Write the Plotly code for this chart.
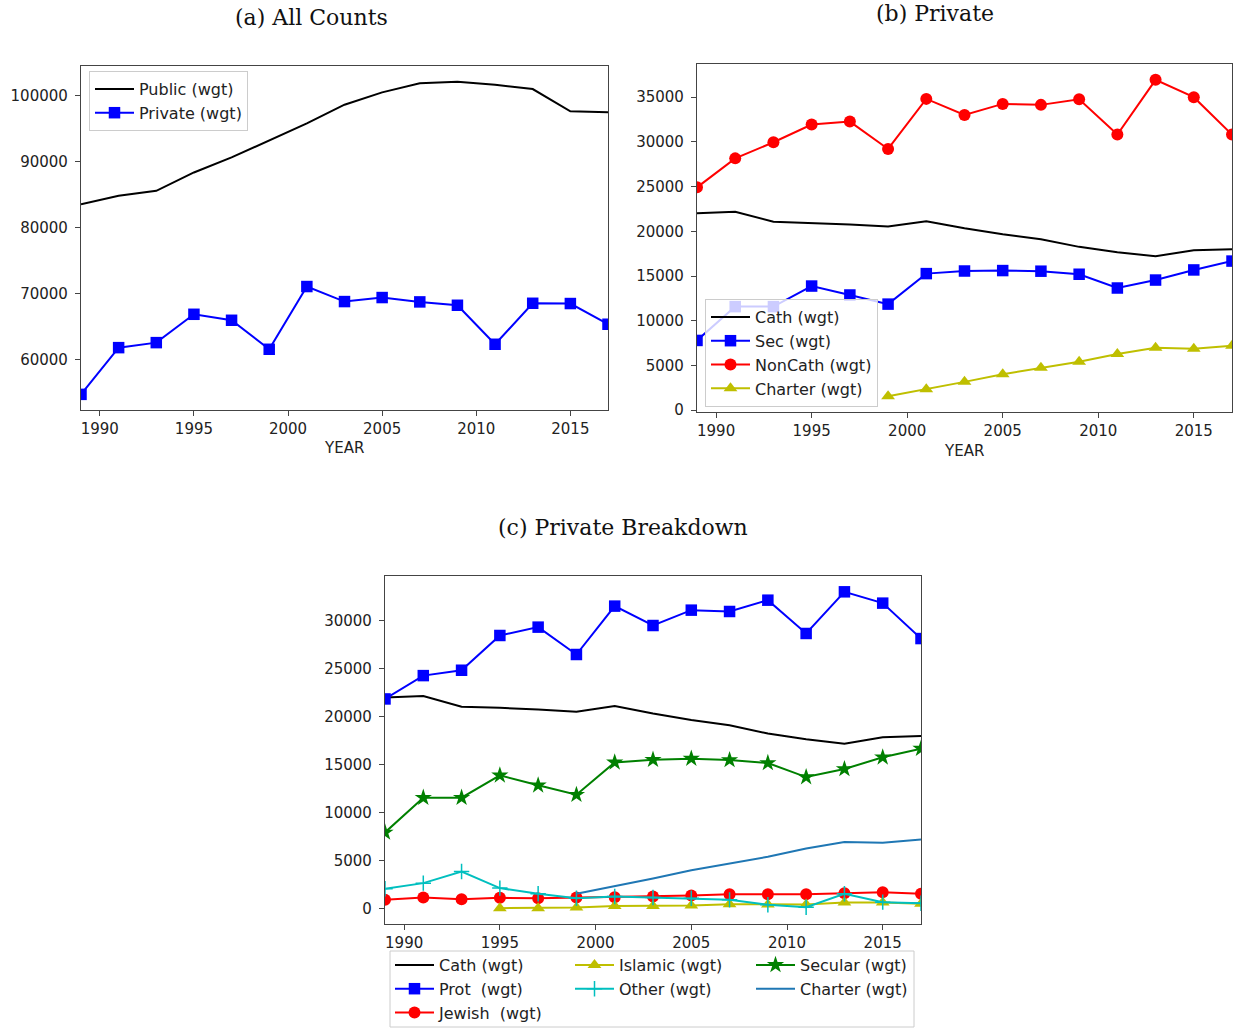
import plotly.graph_objects as go

W, H = 1236, 1028

# ---------------- data ----------------
years = [1989, 1991, 1993, 1995, 1997, 1999, 2001, 2003, 2005, 2007, 2009, 2011, 2013, 2015, 2017]

# (a) All Counts
public_wgt = [83540, 84800, 85570, 88350, 90630, 93160, 95800, 98630, 100500, 101870, 102130, 101670, 101010, 97620, 97470]
private_wgt = [54680, 61770, 62530, 66830, 65920, 61520, 71040, 68760, 69370, 68710, 68200, 62280, 68500, 68460, 65320]

# (b) Private
cath_wgt = [22030, 22180, 21060, 20950, 20760, 20540, 21130, 20350, 19680, 19120, 18260, 17660, 17210, 17890, 18000]
sec_wgt = [7800, 11580, 11580, 13880, 12880, 11860, 15270, 15560, 15610, 15540, 15200, 13660, 14550, 15680, 16670]
noncath_wgt = [24910, 28150, 29950, 31930, 32260, 29200, 34800, 33010, 34240, 34130, 34760, 30810, 36930, 34990, 30810]
charter_wgt = [None, None, None, None, None, 1570, 2350, 3170, 4030, 4750, 5420, 6280, 6970, 6880, 7220]

# (c) Private Breakdown
prot_wgt = [21870, 24300, 24860, 28480, 29350, 26500, 31540, 29520, 31120, 30980, 32160, 28690, 33030, 31850, 28160]
jewish_wgt = [940, 1180, 1010, 1150, 1110, 1180, 1220, 1290, 1390, 1530, 1530, 1530, 1630, 1740, 1570]
islamic_wgt = [None, None, None, 70, 70, 140, 310, 310, 350, 490, 450, 450, 660, 660, 520]
other_wgt = [2090, 2680, 3890, 2160, 1570, 1110, 1290, 1180, 1110, 940, 420, 170, 1570, 700, 590]
secular_wgt = [7960, 11580, 11580, 13910, 12870, 11890, 15260, 15540, 15650, 15510, 15200, 13730, 14570, 15790, 16690]

xtick_vals = [1990, 1995, 2000, 2005, 2010, 2015]

titles = ["(a) All Counts", "(b) Private", "(c) Private Breakdown"]

# ---------------- helpers ----------------
def px(x):
    return x / W


def py(y):
    return 1 - y / H


def auto_range(*series):
    vals = [v for s in series for v in s if v is not None]
    lo, hi = min(vals), max(vals)
    m = 0.05 * (hi - lo)
    return [lo - m, hi + m]


BLACK = "#000000"
BLUE = "#0000ff"
RED = "#ff0000"
YEL = "#bfbf00"
CYAN = "#00bfbf"
GREEN = "#008000"
C0 = "#1f77b4"

fig = go.Figure()


def add(x, y, name, color, xa, ya, legend, symbol=None, msize=10, rank=None, mline=None):
    kw = {}
    if symbol is None:
        mode = "lines"
    else:
        mode = "lines+markers"
        marker = dict(symbol=symbol, size=msize, color=color)
        if mline:
            marker["line"] = dict(color=color, width=mline)
        kw["marker"] = marker
    if rank is not None:
        kw["legendrank"] = rank
    fig.add_trace(go.Scatter(
        x=x, y=y, name=name, mode=mode,
        line=dict(color=color, width=2),
        xaxis=xa, yaxis=ya, legend=legend, cliponaxis=True, **kw))


SQ, CI, TR, ST, PL = 11.5, 12, 12, 13, 11

# (a)
add(years, public_wgt, "Public (wgt)", BLACK, "x", "y", "legend")
add(years, private_wgt, "Private (wgt)", BLUE, "x", "y", "legend", symbol="square", msize=SQ)

# (b)
add(years, cath_wgt, "Cath (wgt)", BLACK, "x2", "y2", "legend2")
add(years, sec_wgt, "Sec (wgt)", BLUE, "x2", "y2", "legend2", symbol="square", msize=SQ)
add(years, noncath_wgt, "NonCath (wgt)", RED, "x2", "y2", "legend2", symbol="circle", msize=CI)
add(years, charter_wgt, "Charter (wgt)", YEL, "x2", "y2", "legend2", symbol="triangle-up", msize=TR)

# (c)
add(years, cath_wgt, "Cath (wgt)", BLACK, "x3", "y3", "legend3", rank=1)
add(years, prot_wgt, "Prot  (wgt)", BLUE, "x3", "y3", "legend3", symbol="square", msize=SQ, rank=2)
add(years, jewish_wgt, "Jewish  (wgt)", RED, "x3", "y3", "legend3", symbol="circle", msize=CI, rank=3)
add(years, islamic_wgt, "Islamic (wgt)", YEL, "x3", "y3", "legend4", symbol="triangle-up", msize=TR, rank=4)
add(years, other_wgt, "Other (wgt)", CYAN, "x3", "y3", "legend4", symbol="cross-thin", msize=PL, rank=5, mline=1.5)
add(years, secular_wgt, "Secular (wgt)", GREEN, "x3", "y3", "legend5", symbol="star", msize=ST, rank=6)
add(years, charter_wgt, "Charter (wgt)", C0, "x3", "y3", "legend5", rank=7)

TICKFONT = dict(family="DejaVu Sans", size=15, color="#222222")
AXLINE = "#444444"


def xax(domain):
    return dict(domain=domain, range=[1989, 2017], tickvals=xtick_vals,
                showline=True, linecolor=AXLINE, linewidth=1.3, mirror=True,
                ticks="outside", ticklen=5, tickcolor=AXLINE, tickwidth=1.2,
                showgrid=False, zeroline=False, tickfont=TICKFONT, automargin=False)


def yax(domain, rng, dtick, anchor):
    return dict(domain=domain, range=rng, dtick=dtick, tick0=0, tickformat="d",
                showline=True, linecolor=AXLINE, linewidth=1.3, mirror=True,
                ticks="outside", ticklen=5, tickcolor=AXLINE, tickwidth=1.2,
                ticklabelstandoff=4,
                showgrid=False, zeroline=False, tickfont=TICKFONT, anchor=anchor,
                automargin=False)


LEGFONT = dict(family="DejaVu Sans", size=16, color="#222222")
IW = 39

fig.update_layout(
    width=W, height=H, autosize=False,
    margin=dict(l=0, r=0, t=0, b=0, autoexpand=False),
    paper_bgcolor="white", plot_bgcolor="white",
    xaxis=dict(xax([px(81), px(608)]), anchor="y"),
    yaxis=yax([py(410), py(66)], auto_range(public_wgt, private_wgt), 10000, "x"),
    xaxis2=dict(xax([px(697), px(1232)]), anchor="y2"),
    yaxis2=yax([py(412), py(64)], auto_range(cath_wgt, sec_wgt, noncath_wgt, charter_wgt), 5000, "x2"),
    xaxis3=dict(xax([px(385), px(921)]), anchor="y3"),
    yaxis3=yax([py(924), py(576)], auto_range(cath_wgt, prot_wgt, jewish_wgt, islamic_wgt,
                                               other_wgt, secular_wgt, charter_wgt), 5000, "x3"),
    legend=dict(x=px(89), y=py(71), xanchor="left", yanchor="top", font=LEGFONT, itemwidth=IW,
                bgcolor="rgba(255,255,255,0.8)", bordercolor="#cccccc", borderwidth=1),
    legend2=dict(x=px(705), y=py(299), xanchor="left", yanchor="top", font=LEGFONT, itemwidth=IW,
                 bgcolor="rgba(255,255,255,0.8)", bordercolor="#cccccc", borderwidth=1),
    legend3=dict(x=px(390), y=py(948), xanchor="left", yanchor="top", font=LEGFONT, itemwidth=IW,
                 bgcolor="rgba(0,0,0,0)", borderwidth=0, traceorder="normal"),
    legend4=dict(x=px(570), y=py(948), xanchor="left", yanchor="top", font=LEGFONT, itemwidth=IW,
                 bgcolor="rgba(0,0,0,0)", borderwidth=0, traceorder="normal"),
    legend5=dict(x=px(751), y=py(948), xanchor="left", yanchor="top", font=LEGFONT, itemwidth=IW,
                 bgcolor="rgba(0,0,0,0)", borderwidth=0, traceorder="normal"),
    shapes=[dict(type="rect", xref="paper", yref="paper",
                 x0=px(390), x1=px(914), y0=py(1027), y1=py(951),
                 line=dict(color="#cccccc", width=1), fillcolor="rgba(0,0,0,0)")],
)

TITLEFONT = dict(family="DejaVu Serif", size=22, color="#111111")
annotations = [
    dict(text=titles[0], x=px(311), y=py(17), xref="paper", yref="paper", showarrow=False,
         xanchor="center", yanchor="middle", font=TITLEFONT),
    dict(text=titles[1], x=px(935), y=py(14), xref="paper", yref="paper", showarrow=False,
         xanchor="center", yanchor="middle", font=TITLEFONT),
    dict(text=titles[2], x=px(623), y=py(527), xref="paper", yref="paper", showarrow=False,
         xanchor="center", yanchor="middle", font=TITLEFONT),
    dict(text="YEAR", x=px(344), y=py(448), xref="paper", yref="paper", showarrow=False,
         xanchor="center", yanchor="middle", font=TICKFONT),
    dict(text="YEAR", x=px(964), y=py(451), xref="paper", yref="paper", showarrow=False,
         xanchor="center", yanchor="middle", font=TICKFONT),
]
fig.update_layout(annotations=annotations)

fig.write_html("out.html")
